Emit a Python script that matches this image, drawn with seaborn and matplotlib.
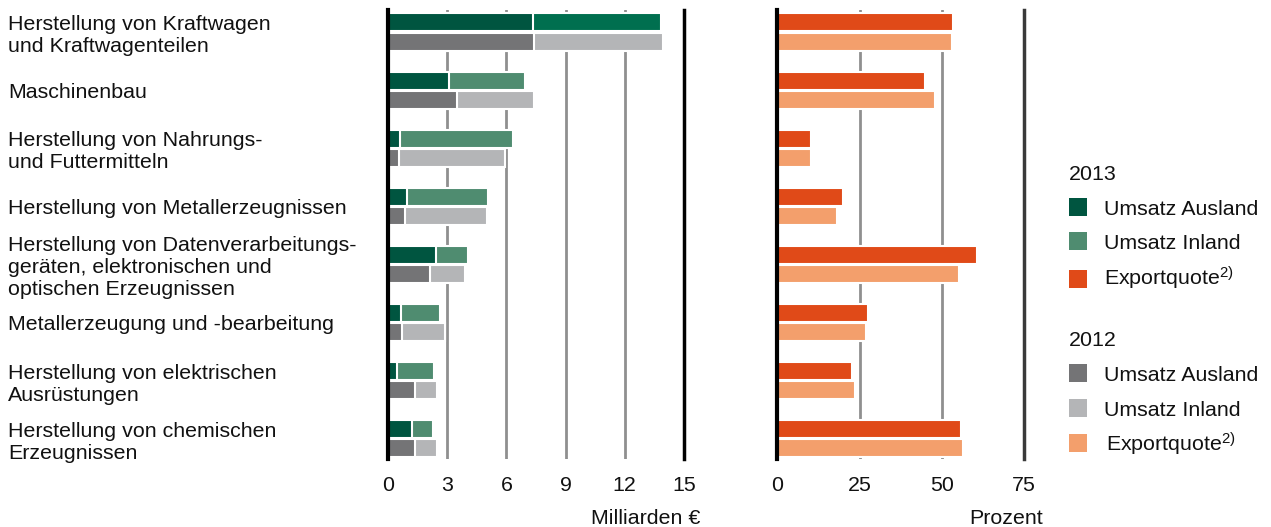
import matplotlib
matplotlib.use("Agg")
import matplotlib.pyplot as plt
from matplotlib.patches import Rectangle
import pandas as pd
import seaborn as sns

# --- data -------------------------------------------------------------
categories = [
    "Herstellung von Kraftwagen\nund Kraftwagenteilen",
    "Maschinenbau",
    "Herstellung von Nahrungs-\nund Futtermitteln",
    "Herstellung von Metallerzeugnissen",
    "Herstellung von Datenverarbeitungs-\ngeräten, elektronischen und\noptischen Erzeugnissen",
    "Metallerzeugung und -bearbeitung",
    "Herstellung von elektrischen\nAusrüstungen",
    "Herstellung von chemischen\nErzeugnissen",
]
years = ["2013", "2012"]
# Umsatz in Milliarden Euro
ausland_2013 = [7.36, 3.10, 0.60, 0.95, 2.43, 0.68, 0.48, 1.24]
inland_2013 = [6.45, 3.84, 5.75, 4.14, 1.64, 1.96, 1.87, 1.04]
ausland_2012 = [7.42, 3.51, 0.58, 0.85, 2.15, 0.73, 1.35, 1.35]
inland_2012 = [6.54, 3.89, 5.35, 4.19, 1.76, 2.16, 1.11, 1.11]
# Exportquote in Prozent
export_2013 = [53.3, 44.9, 10.1, 19.9, 60.5, 27.4, 22.6, 55.8]
export_2012 = [53.0, 48.0, 10.2, 18.1, 55.2, 26.8, 23.7, 56.3]

left_ticks = [0, 3, 6, 9, 12, 15]
right_ticks = [0, 25, 50, 75]

# --- colours ----------------------------------------------------------
AUS13 = "#005540"
INL13 = "#4f8c70"
INL13_KFZ = "#006f4f"
AUS12 = "#747476"
INL12 = "#b4b5b7"
EXP13 = "#e04a18"
EXP12 = "#f39f6c"
TXT = "#111111"

# --- long-form tables -------------------------------------------------
rows = []
for yr, aus, inl, exq in [("2013", ausland_2013, inland_2013, export_2013),
                          ("2012", ausland_2012, inland_2012, export_2012)]:
    for c, a, i, e in zip(categories, aus, inl, exq):
        rows.append({"Wirtschaftszweig": c, "Jahr": yr,
                     "Ausland": a, "Gesamt": a + i, "Exportquote": e})
df = pd.DataFrame(rows)

# --- style ------------------------------------------------------------
sns.set_style("white")
plt.rcParams["font.family"] = ["Liberation Sans", "DejaVu Sans"]
plt.rcParams["mathtext.fontset"] = "custom"
plt.rcParams["mathtext.rm"] = "Liberation Sans"
plt.rcParams["mathtext.it"] = "Liberation Sans"
FS = 15.4

W, H = 1271, 527
fig = plt.figure(figsize=(W / 100, H / 100), dpi=100)
ax_l = fig.add_axes([388 / W, 1 - 459 / H, 296 / W, 449 / H])
ax_r = fig.add_axes([777.3 / W, 1 - 459 / H, 247 / W, 449 / H])

bar_kw = dict(orient="h", width=0.66, gap=0.06, edgecolor="white",
              linewidth=1.5, saturation=1, legend=False,
              hue="Jahr", hue_order=years, order=categories,
              y="Wirtschaftszweig")

# left panel: total (Inland colour) with Ausland share drawn on top
sns.barplot(data=df, x="Gesamt", palette={"2013": INL13, "2012": INL12},
            ax=ax_l, **bar_kw)
sns.barplot(data=df, x="Ausland", palette={"2013": AUS13, "2012": AUS12},
            ax=ax_l, **bar_kw)
ax_l.containers[0][0].set_facecolor(INL13_KFZ)

# right panel: Exportquote
sns.barplot(data=df, x="Exportquote", palette={"2013": EXP13, "2012": EXP12},
            ax=ax_r, **bar_kw)

for ax, ticks, right_col in [(ax_l, left_ticks, "#000000"),
                             (ax_r, right_ticks, "#3a3a3a")]:
    ax.set_xlim(ticks[0], ticks[-1])
    ax.set_ylim(7.35, -0.38)
    ax.set_xticks(ticks)
    ax.set_xticklabels([str(t) for t in ticks])
    ax.set_axisbelow(True)
    ax.grid(axis="x", color="#8f8f8f", linewidth=2)
    ax.grid(axis="y", visible=False)
    ax.set_xlabel("")
    ax.set_ylabel("")
    for s in ("top", "bottom"):
        ax.spines[s].set_visible(False)
    ax.spines["left"].set_color("#000000")
    ax.spines["left"].set_linewidth(3)
    ax.spines["right"].set_color(right_col)
    ax.spines["right"].set_linewidth(2.5)
    ax.tick_params(axis="x", length=0, pad=12, labelsize=FS, labelcolor=TXT)
    ax.patch.set_alpha(0)

# category labels on the left, left-aligned at the figure edge
ax_l.tick_params(axis="y", length=0, pad=380 * 0.72, labelsize=FS,
                 labelcolor=TXT)
for lab in ax_l.get_yticklabels():
    lab.set_horizontalalignment("left")
ax_r.tick_params(axis="y", length=0, labelleft=False)

# axis unit captions
fig.text(700 / W, 1 - 518 / H, "Milliarden €", ha="right", va="center",
         fontsize=FS, color=TXT)
fig.text(1043 / W, 1 - 518 / H, "Prozent", ha="right", va="center",
         fontsize=FS, color=TXT)

# legend: (label, colour, swatch centre y, text baseline y, text x) in pixels
legend_groups = [
    ("2013", 180, [("Umsatz Ausland", AUS13, 207, 215, 1104),
                   ("Umsatz Inland", INL13, 241, 249, 1104),
                   ("Exportquote$^{2)}$", EXP13, 279, 285, 1104)]),
    ("2012", 346, [("Umsatz Ausland", AUS12, 373, 381, 1104),
                   ("Umsatz Inland", INL12, 408, 416, 1104),
                   ("Exportquote$^{2)}$", EXP12, 443, 451, 1106)]),
]
for title, ty, entries in legend_groups:
    fig.text(1069 / W, 1 - ty / H, title, ha="left", va="baseline",
             fontsize=FS, color=TXT)
    for label, col, yc, yb, xt in entries:
        fig.add_artist(Rectangle((1069 / W, 1 - (yc + 9) / H), 18 / W, 18 / H,
                                 transform=fig.transFigure, facecolor=col,
                                 edgecolor="none"))
        fig.text(xt / W, 1 - yb / H, label, ha="left", va="baseline",
                 fontsize=FS, color=TXT)

fig.savefig("out.png", dpi=100, facecolor="white")
